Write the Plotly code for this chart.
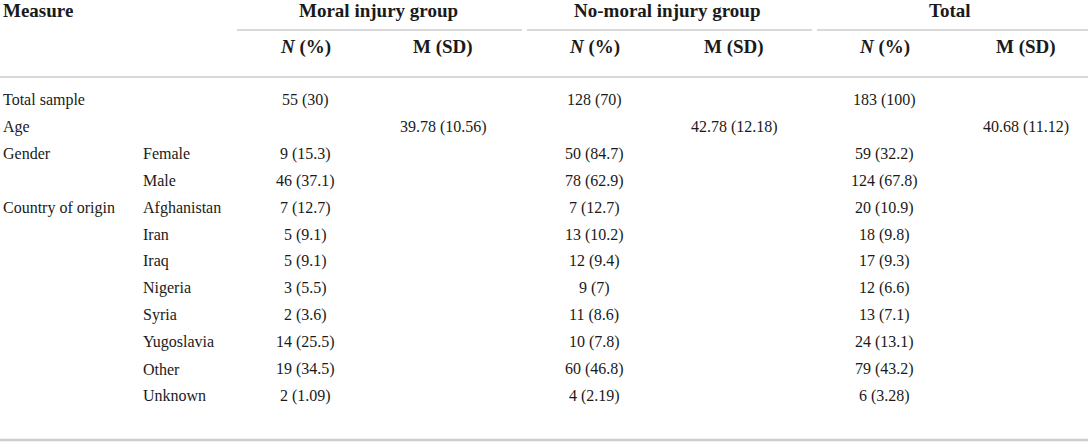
import plotly.graph_objects as go

# table contents
groups = ["Moral injury group", "No-moral injury group", "Total"]
sub_headers = ["<i>N</i> (%)", "M (SD)"]

measure = ["Total sample", "Age", "Gender", "", "Country of origin",
           "", "", "", "", "", "", ""]
category = ["", "", "Female", "Male", "Afghanistan", "Iran", "Iraq",
            "Nigeria", "Syria", "Yugoslavia", "Other", "Unknown"]

moral_n = ["55 (30)", "", "9 (15.3)", "46 (37.1)", "7 (12.7)", "5 (9.1)",
           "5 (9.1)", "3 (5.5)", "2 (3.6)", "14 (25.5)", "19 (34.5)", "2 (1.09)"]
moral_m = ["", "39.78 (10.56)", "", "", "", "", "", "", "", "", "", ""]
nomoral_n = ["128 (70)", "", "50 (84.7)", "78 (62.9)", "7 (12.7)", "13 (10.2)",
             "12 (9.4)", "9 (7)", "11 (8.6)", "10 (7.8)", "60 (46.8)", "4 (2.19)"]
nomoral_m = ["", "42.78 (12.18)", "", "", "", "", "", "", "", "", "", ""]
total_n = ["183 (100)", "", "59 (32.2)", "124 (67.8)", "20 (10.9)", "18 (9.8)",
           "17 (9.3)", "12 (6.6)", "13 (7.1)", "24 (13.1)", "79 (43.2)", "6 (3.28)"]
total_m = ["", "40.68 (11.12)", "", "", "", "", "", "", "", "", "", ""]

W, H = 1088, 445
FONT = "Liberation Serif, Times New Roman, serif"
TXT = "#1a1a1a"
RULE = "#cccccc"

# layout of the columns (pixel units on the axes)
col_x = [305, 443, 594, 734, 884, 1026]
group_x = [378, 667, 950]
group_span = [(237, 522), (527, 812), (817, 1088)]
row_y0, row_dy = 100, 26.9
head1_y, head2_y = 10, 47

fig = go.Figure()
fig.add_trace(go.Scatter(x=[0, W], y=[0, H], mode="markers",
                         marker=dict(opacity=0), hoverinfo="skip", showlegend=False))

ann = []
def txt(x, y, s, anchor="center", size=16, bold=False):
    if bold:
        s = "<b>" + s + "</b>"
    ann.append(dict(x=x, y=y, text=s, xanchor=anchor, yanchor="middle",
                    showarrow=False, font=dict(family=FONT, size=size, color=TXT)))

txt(1, head1_y, "Measure", "left", 19, True)
for g, gx in zip(groups, group_x):
    txt(gx, head1_y, g, size=19, bold=True)
for i, cx in enumerate(col_x):
    txt(cx, head2_y, sub_headers[i % 2], size=19, bold=True)

columns = [moral_n, moral_m, nomoral_n, nomoral_m, total_n, total_m]
for r in range(len(measure)):
    y = row_y0 + r * row_dy
    if measure[r]:
        txt(1, y, measure[r], "left")
    if category[r]:
        txt(141, y, category[r], "left")
    for cx, col in zip(col_x, columns):
        if col[r]:
            txt(cx, y, col[r])

shapes = []
for a, b in group_span:
    shapes.append(dict(type="line", x0=a, x1=b, y0=30, y1=30,
                       line=dict(color=RULE, width=1.5)))
shapes.append(dict(type="line", x0=0, x1=W, y0=77, y1=77, line=dict(color=RULE, width=1.5)))
shapes.append(dict(type="line", x0=0, x1=W, y0=440, y1=440, line=dict(color=RULE, width=2.5)))

fig.update_layout(
    width=W, height=H, margin=dict(l=0, r=0, t=0, b=0),
    paper_bgcolor="white", plot_bgcolor="white",
    xaxis=dict(range=[0, W], visible=False, fixedrange=True),
    yaxis=dict(range=[H, 0], visible=False, fixedrange=True),
    annotations=ann, shapes=shapes,
)

# the page body has a default 8px margin, drop it so the table sits at the corner
fig.write_html("out.html", config={"displayModeBar": False},
               post_script="document.body.style.margin='0';")
